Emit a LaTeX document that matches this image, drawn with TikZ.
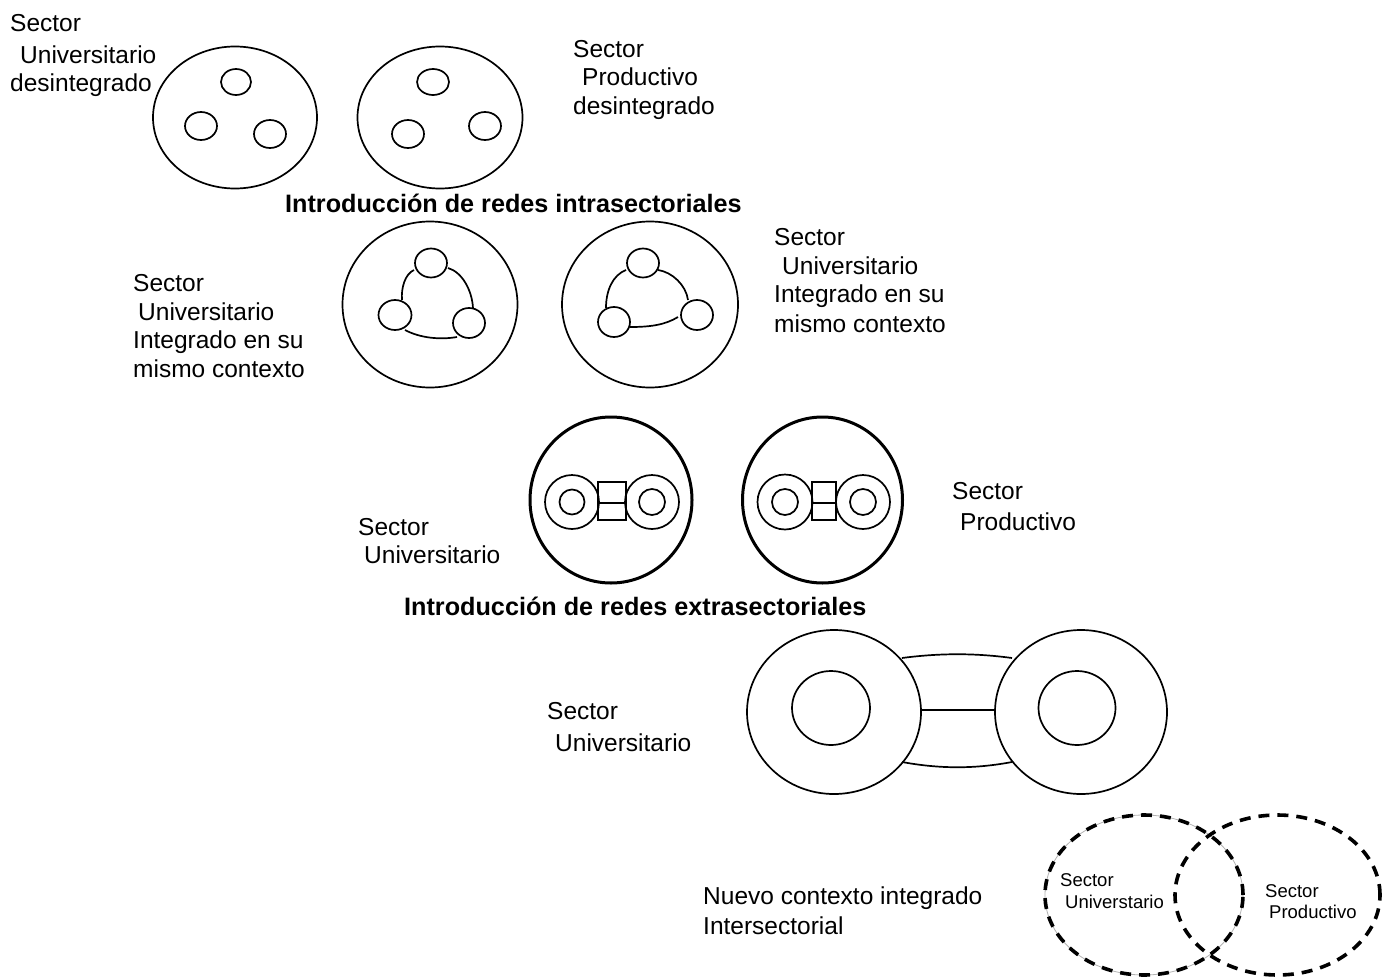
\documentclass[tikz,border=0pt]{standalone}
\usepackage{fontspec}
\setmainfont{Liberation Sans}
\begin{document}
\begin{tikzpicture}[x=1pt,y=-1pt,
  lbl/.style={anchor=base west, inner sep=0pt, font=\fontsize{24.5}{29}\selectfont},
  ttl/.style={anchor=base west, inner sep=0pt, font=\bfseries\fontsize{25.2}{29}\selectfont},
  sml/.style={anchor=base west, inner sep=0pt, font=\fontsize{18.5}{22}\selectfont},
  ln/.style={line width=1.7pt},
  thk/.style={line width=3pt},
  dsh/.style={line width=3.6pt, dash pattern=on 11pt off 8pt}]
\useasboundingbox (0,0) rectangle (1390,977);

% ---------- row 1 ----------
\draw[ln] (235,117.5) ellipse [x radius=82pt, y radius=71pt];
\draw[ln] (236,82) ellipse [x radius=15pt, y radius=13pt];
\draw[ln] (201,126) ellipse [x radius=16pt, y radius=14pt];
\draw[ln] (270,134) ellipse [x radius=16pt, y radius=14pt];

\draw[ln] (440,117.5) ellipse [x radius=82.5pt, y radius=71pt];
\draw[ln] (433,82) ellipse [x radius=16pt, y radius=13pt];
\draw[ln] (408,134) ellipse [x radius=16pt, y radius=14pt];
\draw[ln] (485,126) ellipse [x radius=16pt, y radius=14pt];

\node[lbl] (t1a) at (10,31) {Sector};
\node[lbl] (t1b) at (20,63) {Universitario};
\node[lbl] (t1c) at (10,91) {desintegrado};
\node[lbl] (t2a) at (573,57) {Sector};
\node[lbl] (t2b) at (582,85) {Productivo};
\node[lbl] (t2c) at (573,114) {desintegrado};

\node[ttl] (title1) at (285,212) {Introducción de redes intrasectoriales};

% ---------- row 2 ----------
\draw[ln] (430,304.5) ellipse [x radius=87.5pt, y radius=83pt];
\draw[ln] (431,263) ellipse [x radius=16pt, y radius=14.5pt];
\draw[ln] (395,315) ellipse [x radius=16.5pt, y radius=15pt];
\draw[ln] (469,323) ellipse [x radius=16pt, y radius=15pt];
\draw[ln] (414,270) .. controls (405,274) and (401,288) .. (402,300);
\draw[ln] (448,268) .. controls (462,272) and (472,290) .. (473,308);
\draw[ln] (405,330) .. controls (420,338) and (440,340) .. (457,337);

\draw[ln] (650,304.5) ellipse [x radius=88pt, y radius=83pt];
\draw[ln] (643,263) ellipse [x radius=16pt, y radius=14.5pt];
\draw[ln] (614,322) ellipse [x radius=16pt, y radius=15pt];
\draw[ln] (697,315) ellipse [x radius=16pt, y radius=15pt];
\draw[ln] (626,270) .. controls (613,275) and (606,290) .. (606,308);
\draw[ln] (658,270) .. controls (672,272) and (686,285) .. (688,300);
\draw[ln] (630,327) .. controls (650,327) and (665,325) .. (678,317);

\node[lbl] (t3a) at (133,291) {Sector};
\node[lbl] (t3b) at (138,320) {Universitario};
\node[lbl] (t3c) at (133,348) {Integrado en su};
\node[lbl] (t3d) at (133,377) {mismo contexto};
\node[lbl] (t4a) at (774,245) {Sector};
\node[lbl] (t4b) at (782,274) {Universitario};
\node[lbl] (t4c) at (774,302) {Integrado en su};
\node[lbl] (t4d) at (774,332) {mismo contexto};

% ---------- row 3 ----------
\draw[thk] (611,500) ellipse [x radius=81pt, y radius=83pt];
\draw[ln] (572,502) circle [radius=27pt];
\draw[ln] (572,502) circle [radius=12.5pt];
\draw[ln] (652,502) circle [radius=27pt];
\draw[ln] (652,502) circle [radius=13pt];
\draw[ln] (598,482) rectangle (626,520);
\draw[ln] (598,503) -- (626,503);

\draw[thk] (822.5,500) ellipse [x radius=80pt, y radius=83pt];
\draw[ln] (785,502) circle [radius=27.5pt];
\draw[ln] (785,502) circle [radius=13pt];
\draw[ln] (863,502) circle [radius=27pt];
\draw[ln] (863,502) circle [radius=13pt];
\draw[ln] (812,482) rectangle (836,520);
\draw[ln] (812,503) -- (836,503);

\node[lbl] (t5a) at (358,535) {Sector};
\node[lbl] (t5b) at (364,563) {Universitario};
\node[lbl] (t6a) at (952,499) {Sector};
\node[lbl] (t6b) at (960,530) {Productivo};

\node[ttl] (title2) at (404,615) {Introducción de redes extrasectoriales};

% ---------- row 4 ----------
\draw[ln] (834,712) ellipse [x radius=87pt, y radius=82pt];
\draw[ln] (831,708) ellipse [x radius=39pt, y radius=37pt];
\draw[ln] (1081,712) ellipse [x radius=86pt, y radius=82pt];
\draw[ln] (1077,708) ellipse [x radius=38.5pt, y radius=37pt];
\draw[ln] (902,658) .. controls (940,653) and (975,653) .. (1012,658);
\draw[ln] (902,762) .. controls (940,769) and (975,769) .. (1012,762);
\draw[ln] (922,710) -- (995,710);

\node[lbl] (t7a) at (547,719) {Sector};
\node[lbl] (t7b) at (555,751) {Universitario};

% ---------- row 5 ----------
\draw[line width=0.8pt, gray!60] (1144,895) ellipse [x radius=99pt, y radius=80pt];
\draw[dsh] (1144,895) ellipse [x radius=99pt, y radius=80pt];
\draw[dsh] (1277.5,895) ellipse [x radius=102.5pt, y radius=80pt];

\node[lbl] (t8a) at (703,904) {Nuevo contexto integrado};
\node[lbl] (t8b) at (703,934) {Intersectorial};
\node[sml] (t9a) at (1060,886) {Sector};
\node[sml] (t9b) at (1065,908) {Universtario};
\node[sml] (t10a) at (1265,897) {Sector};
\node[sml] (t10b) at (1269,918) {Productivo};
\end{tikzpicture}
\end{document}
